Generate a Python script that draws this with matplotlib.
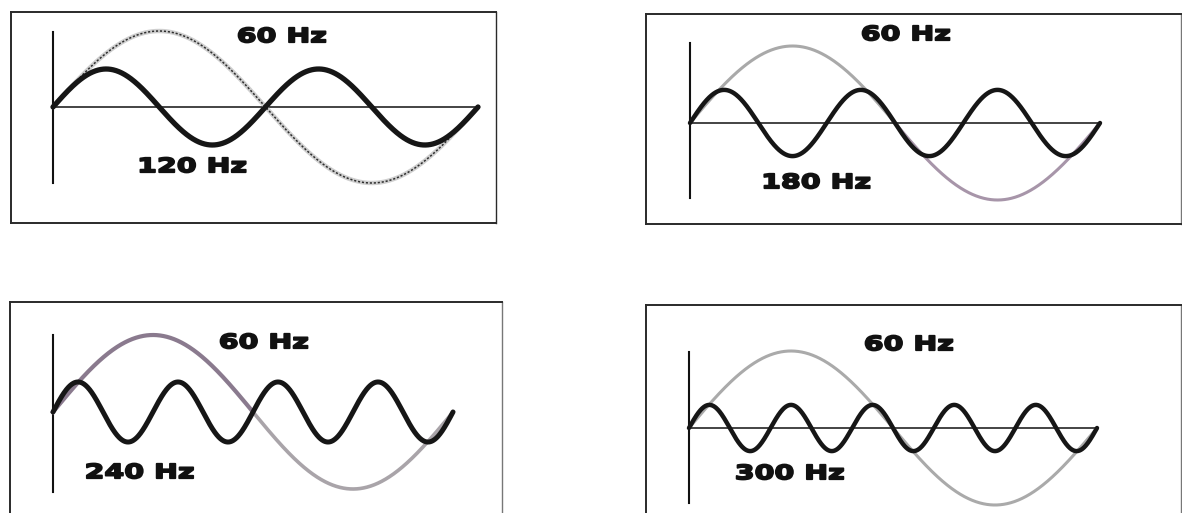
import numpy as np
import matplotlib
matplotlib.use("Agg")
import matplotlib.pyplot as plt
from matplotlib.textpath import TextPath
from matplotlib.patches import PathPatch
from matplotlib.font_manager import FontProperties
from matplotlib.transforms import Affine2D, IdentityTransform

W, H = 1182, 513

# fundamental and harmonics shown in the four panels
fund_freq = 60
harm_freqs = [120, 180, 240, 300]
harm_amps = [0.50, 0.43, 0.39, 0.30]
fund_label = "60 Hz"
harm_labels = ["120 Hz", "180 Hz", "240 Hz", "300 Hz"]

# panel geometry in pixels (top-down): box, t=0 / t=T columns, zero row, unit amplitude
panels = [
    dict(box=(11, 12, 496, 223), t0=53, t1=478, yc=107, amp=76, vax=(32, 183), hax=True,
         fund_lbl=(282, 35), harm_lbl=(193, 165), lw=3.8),
    dict(box=(646, 14, 1181, 224), t0=690, t1=1100, yc=123, amp=77, vax=(43, 198), hax=True,
         fund_lbl=(906, 33), harm_lbl=(817, 181), lw=3.2),
    dict(box=(10, 302, 502, 545), t0=53, t1=453, yc=412, amp=77, vax=(335, 492), hax=False,
         fund_lbl=(264, 341), harm_lbl=(140, 471), lw=3.6),
    dict(box=(646, 305, 1181, 545), t0=689, t1=1097, yc=428, amp=77, vax=(352, 503), hax=True,
         fund_lbl=(909, 343), harm_lbl=(790, 472), lw=3.2),
]

T = 1000.0 / fund_freq          # one period of the fundamental, ms
t = np.linspace(0, T, 1200)

fig = plt.figure(figsize=(W / 100, H / 100), dpi=100)
fp = FontProperties(family="DejaVu Sans", weight="bold")

# common scale for the wide, heavy labels
ref = TextPath((0, 0), fund_label, size=1, prop=fp).get_extents()
sy = 15.0 / ref.height
sx = 87.0 / ref.width


def label(s, cx, cy):
    tp = TextPath((0, 0), s, size=1, prop=fp)
    e = tp.get_extents()
    tr = (Affine2D().translate(-e.x0 - e.width / 2, -e.y0 - e.height / 2)
          .scale(sx, sy).translate(cx, H - cy))
    fig.add_artist(PathPatch(tr.transform_path(tp), transform=IdentityTransform(),
                             facecolor="#111111", edgecolor="#111111", lw=1.3,
                             joinstyle="round"))


def to_t(px, p):
    return (px - p["t0"]) / (p["t1"] - p["t0"]) * T


def to_y(py, p):
    return (p["yc"] - py) / p["amp"]


for i, p in enumerate(panels):
    x0, y0, x1, y1 = p["box"]
    ax = fig.add_axes([x0 / W, 1 - y1 / H, (x1 - x0) / W, (y1 - y0) / H])
    ax.set_xlim(to_t(x0, p), to_t(x1, p))
    ax.set_ylim(to_y(y1, p), to_y(y0, p))
    ax.set_xticks([])
    ax.set_yticks([])
    for side, sp in ax.spines.items():
        sp.set_color("#2a2a2a" if side != "right" or i == 0 else "#777777")
        sp.set_linewidth(1.4 if side != "right" else 1.0)

    fund = np.sin(2 * np.pi * fund_freq * t / 1000.0)
    harm = harm_amps[i] * np.sin(2 * np.pi * harm_freqs[i] * t / 1000.0)

    # axes drawn inside the box
    ax.plot([0, 0], [to_y(p["vax"][1], p), to_y(p["vax"][0], p)], color="#111111", lw=1.5)
    if p["hax"]:
        ax.plot([0, T], [0, 0], color="#111111", lw=1.1)

    half = t <= T / 2
    if i == 0:
        ax.plot(t, fund, color="#cfcfcf", lw=3.2, solid_capstyle="round")
        ax.plot(t, fund, color="#2e2e2e", lw=1.1, dashes=(1.4, 1.2))
    elif i == 1:
        ax.plot(t[half], fund[half], color="#a9a9a9", lw=2.2)
        ax.plot(t[~half], fund[~half], color="#a795a9", lw=2.2)
    elif i == 2:
        ax.plot(t[half], fund[half], color="#8a7a8e", lw=3.0)
        ax.plot(t[~half], fund[~half], color="#a9a4a9", lw=2.6)
    else:
        ax.plot(t, fund, color="#aaaaaa", lw=2.2)

    ax.plot(t, harm, color="#161616", lw=p["lw"], solid_capstyle="round")

    label(fund_label, *p["fund_lbl"])
    label(harm_labels[i], *p["harm_lbl"])

fig.savefig("out.png", dpi=100)
